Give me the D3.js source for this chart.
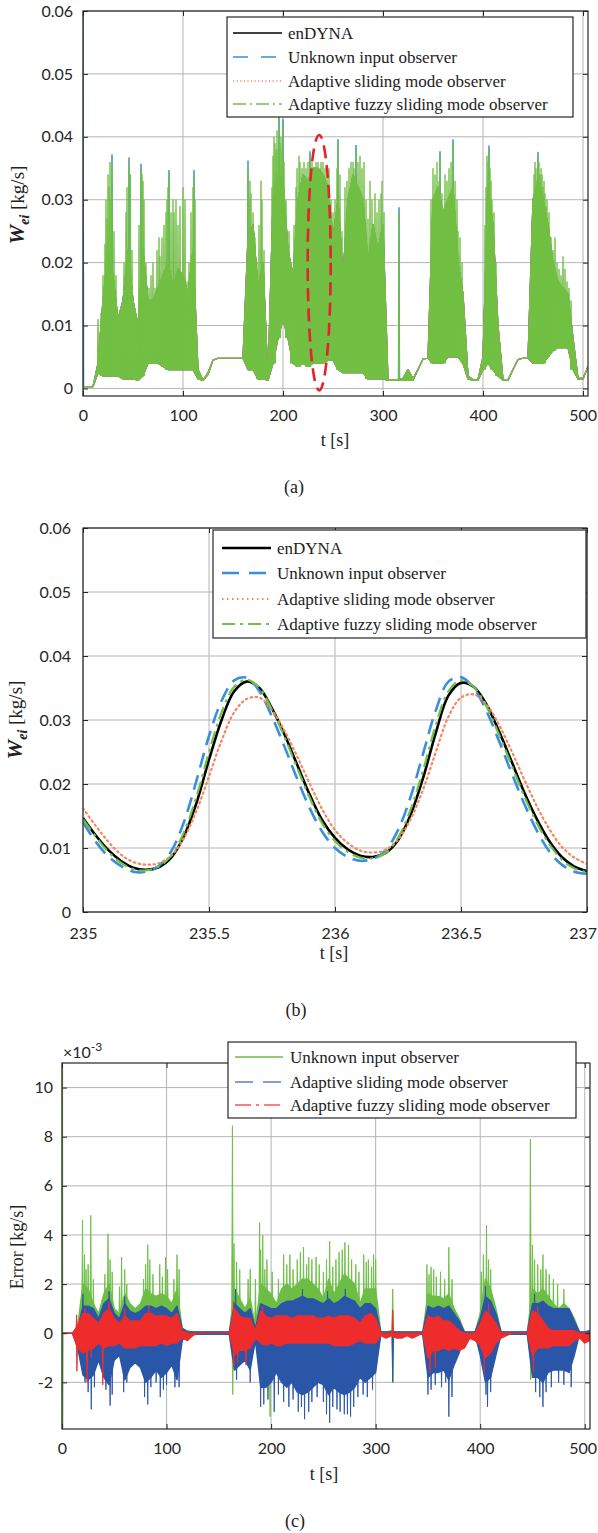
<!DOCTYPE html>
<html><head><meta charset="utf-8">
<script src="https://cdn.jsdelivr.net/npm/d3@7"></script>
<style>body{margin:0;background:#fff}svg{display:block}</style>
</head><body><svg id="c" width="598" height="1533"></svg>
<script>
// ===================== DATA =====================
// Panel (a): envelope of the mass-flow signal sampled every 5 s (0..505 s)
const aTime = d3.range(0, 506, 5);
const aHigh = [0.0003,0.0003,0.0003,0.004,0.014,0.022,0.018,0.011,0.014,0.022,0.014,0.010,0.022,0.014,0.014,0.016,0.018,0.020,0.016,0.019,0.018,0.015,0.022,0.003,0.0013,0.0025,0.0045,0.0048,0.0048,0.0048,0.0048,0.0048,0.0048,0.024,0.026,0.016,0.020,0.0014,0.030,0.034,0.033,0.022,0.018,0.030,0.034,0.033,0.035,0.035,0.034,0.032,0.024,0.030,0.018,0.030,0.034,0.032,0.030,0.020,0.026,0.022,0.026,0.0014,0.0014,0.0014,0.0016,0.003,0.0015,0.003,0.0047,0.0048,0.030,0.032,0.028,0.030,0.032,0.020,0.015,0.002,0.0014,0.0014,0.005,0.032,0.026,0.010,0.0014,0.0014,0.003,0.0046,0.0048,0.0048,0.030,0.033,0.030,0.026,0.020,0.017,0.016,0.015,0.008,0.0016,0.0016,0.0035];
const aLow = [0.0003,0.0003,0.0003,0.0025,0.002,0.002,0.002,0.002,0.0015,0.0015,0.0015,0.0013,0.002,0.004,0.004,0.004,0.0035,0.003,0.003,0.003,0.003,0.003,0.003,0.0015,0.0013,0.0022,0.0045,0.0048,0.0048,0.0048,0.0048,0.0048,0.0048,0.003,0.003,0.0015,0.0015,0.0013,0.004,0.008,0.011,0.008,0.004,0.0035,0.004,0.0035,0.004,0.004,0.004,0.0045,0.0045,0.003,0.0025,0.0025,0.0025,0.0025,0.0025,0.0015,0.0015,0.0015,0.0015,0.0013,0.0013,0.0013,0.0013,0.0013,0.0013,0.003,0.0047,0.0048,0.004,0.004,0.004,0.005,0.005,0.005,0.004,0.0015,0.0013,0.0013,0.003,0.004,0.003,0.002,0.0013,0.0013,0.003,0.0046,0.0048,0.0048,0.004,0.004,0.004,0.005,0.006,0.0065,0.0065,0.0065,0.003,0.0015,0.0015,0.0035];
// oscillation peaks [t, value]
const aSpikes = [[15,0.011],[18,0.012],[20,0.018],[22,0.023],[23,0.030],[24,0.027],[25,0.034],[26,0.032],[27,0.036],[28,0.030],[29,0.036],[31,0.025],[33,0.018],[41,0.020],[43,0.028],[44,0.032],[46,0.036],[47.5,0.034],[49,0.022],[56,0.026],[58,0.035],[59,0.034],[60,0.033],[61,0.030],[63,0.020],[66,0.016],[68,0.018],[70,0.020],[72,0.016],[74,0.022],[76,0.024],[77,0.021],[79,0.024],[81,0.026],[83,0.028],[84,0.030],[85,0.032],[86,0.034],[88,0.028],[90,0.030],[91,0.028],[93,0.030],[95,0.026],[97,0.029],[100,0.032],[102,0.030],[104,0.017],[106,0.020],[108,0.028],[110,0.032],[111,0.034],[112,0.030],
[165,0.035],[166,0.030],[167,0.033],[168,0.031],[170,0.028],[172,0.024],[174,0.020],[176,0.026],[178,0.033],[179,0.030],[181,0.022],[189,0.032],[190,0.037],[191,0.040],[192,0.039],[193,0.038],[194,0.041],[195,0.038],[196,0.043],[197,0.039],[198,0.040],[199,0.038],[200,0.042],[201,0.036],[203,0.030],[206,0.025],[208,0.020],[211,0.026],[213,0.032],[214,0.035],[216,0.037],[217,0.036],[219,0.035],[221,0.036],[223,0.035],[225,0.036],[227,0.037],[229,0.036],[231,0.035],[233,0.036],[235,0.036],[237,0.035],[238,0.036],[240,0.036],[242,0.035],[244,0.034],[246,0.035],[248,0.030],[250,0.028],[252,0.030],[254,0.035],[255,0.039],[257,0.034],[259,0.025],[262,0.032],[264,0.033],[266,0.035],[268,0.036],[270,0.036],[271,0.035],[273,0.038],[275,0.036],[277,0.037],[279,0.035],[281,0.036],[283,0.030],[285,0.027],[287,0.033],[289,0.030],[292,0.031],[294,0.028],[296,0.030],[298,0.031],[299,0.033],[301,0.028],
[316,0.028],[348,0.030],[350,0.035],[352,0.034],[354,0.036],[356,0.033],[357,0.037],[359,0.031],[362,0.034],[364,0.033],[366,0.035],[368,0.036],[370,0.039],[372,0.033],[374,0.030],[375,0.025],[377,0.024],[379,0.020],
[402,0.026],[403,0.032],[404,0.037],[405,0.036],[406,0.038],[407,0.035],[408,0.033],[409,0.030],[411,0.028],[413,0.020],
[450,0.030],[451,0.034],[452,0.036],[453,0.035],[454,0.033],[455,0.037],[456,0.036],[457,0.034],[458,0.035],[459,0.034],[460,0.032],[461,0.033],[462,0.031],[463,0.029],[464,0.030],[466,0.028],[468,0.024],[470,0.022],[472,0.024],[474,0.020],[476,0.019],[478,0.018],[480,0.021],[482,0.019],[484,0.017],[486,0.016],[488,0.014]];
// unknown input observer peaks that stick out above the others
const uioTips = [[29,0.0372],[46,0.0367],[58,0.0357],[86,0.0347],[111,0.0347],[165,0.0362],[196,0.0435],[200,0.0428],[227,0.0377],[255,0.0396],[273,0.0387],[316,0.0288],[357,0.0377],[370,0.0396],[406,0.0386],[455,0.0376]];
const uioStart = [[0,0.06],[0.5,0.0003]];
const zoomWindow = {t:236.2, v:0.020, dt:11.5, dv:0.0203};

// Panel (b): 235 .. 237 s, every 0.05 s
const bTime = d3.range(0, 41).map(i => 235 + i * 0.05);
const bEnDYNA = [0.0147,0.0120,0.0097,0.0080,0.0069,0.0066,0.0070,0.0085,0.0118,0.0170,0.0238,0.0300,0.0345,0.0360,0.0350,0.0318,0.0277,0.0230,0.0183,0.0143,0.0116,0.0098,0.0088,0.0086,0.0092,0.0112,0.0152,0.0210,0.0280,0.0338,0.0358,0.0352,0.0325,0.0283,0.0236,0.0188,0.0146,0.0111,0.0086,0.0071,0.0064];
const bUIO = [0.0140,0.0110,0.0087,0.0072,0.0063,0.0063,0.0072,0.0095,0.0140,0.0205,0.0275,0.0330,0.0362,0.0366,0.0345,0.0305,0.0258,0.0208,0.0162,0.0125,0.0100,0.0086,0.0080,0.0083,0.0096,0.0128,0.0180,0.0248,0.0315,0.0360,0.0367,0.0350,0.0315,0.0268,0.0218,0.0170,0.0128,0.0095,0.0074,0.0063,0.0060];
const bASMO = [0.0162,0.0135,0.0110,0.0090,0.0078,0.0074,0.0076,0.0088,0.0115,0.0158,0.0212,0.0268,0.0312,0.0333,0.0335,0.0315,0.0283,0.0243,0.0200,0.0160,0.0128,0.0108,0.0096,0.0093,0.0097,0.0113,0.0145,0.0192,0.0250,0.0305,0.0335,0.0340,0.0325,0.0293,0.0252,0.0208,0.0166,0.0130,0.0102,0.0085,0.0075];
const bAFSMO = [0.0145,0.0118,0.0094,0.0077,0.0067,0.0065,0.0071,0.0088,0.0124,0.0180,0.0250,0.0312,0.0352,0.0363,0.0350,0.0316,0.0273,0.0225,0.0178,0.0138,0.0111,0.0094,0.0085,0.0084,0.0092,0.0116,0.0160,0.0222,0.0292,0.0345,0.0362,0.0352,0.0322,0.0278,0.0230,0.0182,0.0140,0.0106,0.0082,0.0068,0.0062];

// Panel (c): estimation error (x 10^-3 kg/s), envelopes every 5 s
const cTime = d3.range(0, 506, 5);
const uioErrHigh = [0,0,0,0.3,2.0,1.8,1.2,0.8,1.6,2.0,1.0,0.8,1.6,1.2,1.0,1.2,1.8,1.6,1.5,1.6,1.5,1.2,1.8,0.2,0.1,0.05,0.05,0.05,0.05,0.05,0.05,0.05,0.05,1.8,1.4,1.0,1.4,0.3,2.0,1.8,1.6,1.2,1.8,2.0,1.8,2.0,2.2,2.2,2.0,1.8,1.4,2.2,1.6,2.0,2.4,2.2,2.0,1.2,1.8,1.8,1.8,0.05,0.05,0.1,0.05,0.05,0.05,0.05,0.05,0.05,1.6,1.5,1.5,1.4,1.6,1.0,0.6,0.05,0.05,0.05,0.8,2.2,1.8,1.0,0.05,0.05,0.05,0.05,0.05,0.05,1.8,1.6,1.8,1.5,1.2,1.0,1.2,1.0,0.6,0.05,0.05,0.1];
const uioErrLow = [0,0,0,-0.3,-1.2,-1.3,-1.0,-0.8,-1.4,-1.5,-0.9,-0.8,-1.4,-1.2,-1.0,-1.0,-1.3,-1.3,-1.2,-1.3,-1.2,-1.0,-1.3,-0.2,-0.05,-0.05,-0.05,-0.05,-0.05,-0.05,-0.05,-0.05,-0.05,-1.5,-1.2,-0.9,-1.2,-0.3,-1.5,-1.5,-1.6,-1.2,-1.4,-1.5,-1.4,-1.5,-1.5,-1.5,-1.4,-1.4,-1.3,-1.4,-1.4,-1.4,-1.4,-1.4,-1.3,-1.1,-1.2,-1.2,-1.2,-0.05,-0.05,-0.1,-0.05,-0.05,-0.05,-0.05,-0.05,-0.05,-1.4,-1.3,-1.2,-1.2,-1.3,-0.9,-0.6,-0.05,-0.05,-0.05,-0.8,-1.4,-1.3,-0.8,-0.05,-0.05,-0.05,-0.05,-0.05,-0.05,-1.5,-1.3,-1.3,-1.2,-1.0,-1.0,-1.0,-0.9,-0.6,-0.05,-0.05,-0.1];
const asmoErrHigh = [0,0,0,0.2,1.1,1.1,1.0,0.6,1.2,1.4,0.8,0.6,1.2,0.9,0.8,0.9,1.1,1.1,1.0,1.1,1.0,0.8,1.1,0.2,0.05,0.05,0.05,0.05,0.05,0.05,0.05,0.05,0.05,1.2,1.0,0.8,1.0,0.2,1.2,1.1,1.0,1.0,1.2,1.3,1.3,1.4,1.5,1.4,1.4,1.3,1.2,1.4,1.2,1.3,1.5,1.4,1.3,1.0,1.2,1.2,1.0,0.05,0.05,0.05,0.05,0.05,0.05,0.05,0.05,0.05,1.1,1.0,1.1,1.0,1.1,0.8,0.5,0.05,0.05,0.05,0.6,1.5,1.3,0.8,0.05,0.05,0.05,0.05,0.05,0.05,1.2,1.2,1.3,1.1,1.0,1.0,1.0,1.0,0.5,0.05,0.05,0.1];
const asmoErrLow = [0,0,0,-0.6,-1.7,-1.9,-1.7,-1.1,-1.8,-2.1,-1.1,-0.9,-1.9,-1.4,-1.2,-1.4,-2.0,-1.8,-1.5,-1.8,-1.6,-1.3,-1.9,-0.3,-0.05,-0.05,-0.05,-0.05,-0.05,-0.05,-0.05,-0.05,-0.05,-1.5,-1.3,-1.1,-1.5,-0.3,-2.2,-2.2,-2.0,-1.6,-2.0,-2.2,-2.0,-2.4,-2.5,-2.4,-2.2,-2.0,-2.1,-2.5,-2.2,-2.4,-2.5,-2.4,-2.2,-1.8,-2.0,-1.8,-1.6,-0.05,-0.05,-0.05,-0.05,-0.05,-0.05,-0.05,-0.05,-0.05,-1.8,-1.6,-1.6,-1.5,-1.9,-1.3,-0.8,-0.05,-0.05,-0.05,-0.9,-2.0,-1.8,-0.9,-0.05,-0.05,-0.05,-0.05,-0.05,-0.05,-1.8,-1.8,-2.0,-1.6,-1.5,-1.5,-1.5,-1.6,-0.9,-0.05,-0.05,-0.1];
const afsmoErrHigh = [0,0,0,0.3,0.8,0.8,0.6,0.4,0.8,1.0,0.6,0.4,0.7,0.5,0.5,0.5,0.8,0.8,0.7,0.7,0.7,0.6,0.8,0.1,0,0,0,0,0,0,0,0,0,1.0,0.7,0.6,0.6,0.1,0.9,0.7,0.6,0.7,0.7,0.7,0.6,0.7,0.7,0.7,0.7,0.6,0.6,0.7,0.6,0.7,0.7,0.7,0.6,0.4,0.7,0.8,0.6,0,0,0,0,0,0,0,0,0,0.7,0.6,0.7,0.5,0.5,0.3,0.1,0,0,0,0.4,0.9,0.7,0.4,0,0,0,0,0,0,0.9,0.8,0.5,0.2,0.1,0.1,0.1,0.1,0.1,0,0,0];
const afsmoErrLow = [0,0,0,-0.6,-0.8,-0.7,-0.6,-0.4,-0.6,-0.5,-0.5,-0.4,-0.6,-0.6,-0.6,-0.5,-0.5,-0.5,-0.5,-0.4,-0.5,-0.4,-0.4,-0.2,-0.3,-0.1,0,0,0,0,0,0,0,-0.9,-0.7,-0.7,-0.6,-0.2,-0.4,-0.5,-0.4,-0.5,-0.5,-0.4,-0.4,-0.4,-0.4,-0.4,-0.4,-0.4,-0.4,-0.4,-0.5,-0.5,-0.5,-0.5,-0.4,-0.3,-0.4,-0.4,-0.4,-0.1,-0.2,-0.1,-0.2,-0.2,-0.1,-0.2,-0.1,0,-1.0,-0.7,-0.7,-0.6,-0.7,-0.6,-0.7,-0.6,-0.2,-0.3,-0.5,-1.0,-0.8,-0.4,-0.2,-0.1,0,0,0,0,-0.9,-0.6,-0.6,-0.6,-0.5,-0.5,-0.5,-0.5,-0.3,-0.2,-0.4,-0.3];
const uioErrSpikes = [[19.6,4.6],[21.5,3.2],[23,2.6],[25,2.8],[27.5,4.8],[30,2.2],[41,2.4],[44,4.05],[46,3.0],[48,2.5],[55,1.9],[57,3.1],[60,2.6],[62,2.0],[78,2.2],[80,2.8],[82,3.6],[84,3.0],[87,2.4],[93.5,2.8],[96,2.3],[99,3.1],[101,2.6],[107,2.2],[110,3.2],[112,2.6],
[163,8.45],[163.3,-2.5],[164.5,3.65],[167,2.9],[170,2.6],[178,2.2],[180,2.6],[185,2.2],[189,4.5],[190,3.4],[192,4.0],[194,2.6],[196,3.0],[199,-3.4],[201,2.5],[207,2.2],[212,3.2],[215,2.8],[218,3.2],[221,2.6],[225,3.0],[228,3.3],[231,3.5],[234,2.8],[236,3.1],[239,3.0],[243,3.1],[246,2.8],[250,2.5],[253,3.0],[256,3.75],[259,2.7],[262,3.0],[265,3.3],[268,3.4],[270.6,3.7],[274,3.6],[277,3.0],[281,2.8],[284,2.5],[288.6,3.2],[291,2.9],[293,3.0],[296,2.7],[298,3.2],[300,3.0],
[316.3,1.8],[316.5,-2.0],[349,2.8],[351,2.4],[353,2.7],[355.5,2.6],[358,2.3],[362,2.5],[366,2.2],[370,3.5],[373,2.2],[401,2.5],[403,3.2],[406,4.4],[408,3.0],[410,2.6],[448,7.9],[448.3,-1.9],[450,3.6],[452,3.0],[455,2.8],[458,2.6],[460,3.2],[463,2.6],[466,2.4],[470,2.2],[474,2.0],[480,1.8]];
const asmoErrSpikes = [[20,1.6],[22,-2.0],[25,-2.4],[28,-3.1],[31,-2.2],[42,-2.3],[45,1.7],[46,-2.95],[48,-2.5],[59,-2.4],[60,1.5],[62,-2.0],[79,-2.6],[82,-2.9],[85,-2.2],[90,-2.0],[94,-2.6],[97,-2.3],[100,-2.1],[108,-2.2],[112,-2.2],
[166,1.8],[167,-1.9],[180,-2.0],[190,-3.0],[193,-2.9],[197,-2.7],[203,-3.2],[207,-2.5],[212,-2.8],[217,-3.0],[221,-2.7],[226,-3.2],[229,-3.0],[230,1.8],[232,-3.5],[236,-3.2],[239,-2.8],[244,-2.6],[250,-2.8],[253,-3.3],[254,1.7],[256,-3.65],[259,-3.0],[263,-3.1],[266,-3.2],[270,-3.3],[271,1.8],[273,-3.3],[276,-3.4],[279,-3.0],[283,-2.6],[288,-2.5],[292,-2.6],[297,-2.3],
[316.3,-2.0],[350,-2.5],[353,-2.3],[357,-2.1],[363,-2.2],[367,-2.0],[370,-3.4],[373,-2.6],[405,1.9],[405.5,-2.5],[407,-3.0],[410,-2.4],[452,1.6],[453,-2.4],[457,-2.6],[460,-3.0],[463,-2.4],[468,-2.2],[475,-2.0],[480,-2.1],[487,-2.2]];
const afsmoErrSpikes = [[14,0.75],[14.3,-1.55],[22,1.0],[24,-2.0],[28,-1.0],[39,-2.1],[45,1.3],[60,1.0],[83,1.1],[164,1.3],[164.3,-1.35],[168,-1.2],[176,-1.3],[192,1.1],[316.3,0.95],[352,-1.6],[357,-1.4],[404,-1.6],[408,1.2],[451,-1.6],[455,1.1]];
const uioErrStart = [[0,11],[0.2,-3.9],[0.5,0]];

// Labels / ticks
const namesAB = ["enDYNA","Unknown input observer","Adaptive sliding mode observer","Adaptive fuzzy sliding mode observer"];
const namesC = ["Unknown input observer","Adaptive sliding mode observer","Adaptive fuzzy sliding mode observer"];
const tTicks = [0,100,200,300,400,500];
const wTicks = [0,0.01,0.02,0.03,0.04,0.05,0.06];
const bTTicks = [235,235.5,236,236.5,237];
const eTicks = [-2,0,2,4,6,8,10];

// ===================== STYLE =====================
const colAB = ["#000000","#3A8EDB","#F4865F","#72BF44"];
const colC = ["#6CBE45","#2A56A8","#EE2C2C"];
const SERIF = "'Liberation Serif','Times New Roman',serif";
const SANS = "Lato, 'Open Sans', sans-serif";
const svg = d3.select("#c");

function grid(x, y, xt, yt) {
  const [x0,x1] = x.range(), [y0,y1] = y.range();
  const g = svg.append("g");
  g.selectAll(".gx").data(xt).join("line").attr("x1",d=>x(d)).attr("x2",d=>x(d)).attr("y1",y0).attr("y2",y1).attr("stroke","#b4b4b4").attr("stroke-width",1);
  g.selectAll(".gy").data(yt).join("line").attr("x1",x0).attr("x2",x1).attr("y1",d=>y(d)).attr("y2",d=>y(d)).attr("stroke","#b4b4b4").attr("stroke-width",1);
}
function axes(x, y, xt, yt, xf, yf, padX, padY) {
  const [x0,x1] = x.range(), [y0,y1] = y.range();
  const g = svg.append("g");
  const st = s => { s.select(".domain").remove(); s.selectAll("line").attr("stroke","#262626");
    s.selectAll("text").attr("font-family",SANS).attr("font-size",16).attr("fill","#262626"); };
  const bx = g.append("g").attr("transform",`translate(0,${y0})`).call(d3.axisBottom(x).tickValues(xt).tickSize(-5).tickPadding(padX).tickFormat(xf)).call(st);
  g.append("g").attr("transform",`translate(0,${y1})`).call(d3.axisTop(x).tickValues(xt).tickSize(-5).tickFormat("")).call(st);
  g.append("g").attr("transform",`translate(${x0},0)`).call(d3.axisLeft(y).tickValues(yt).tickSize(-5).tickPadding(padY).tickFormat(yf)).call(st);
  g.append("g").attr("transform",`translate(${x1},0)`).call(d3.axisRight(y).tickValues(yt).tickSize(-5).tickFormat("")).call(st);
  g.append("rect").attr("x",x0).attr("y",y1).attr("width",x1-x0).attr("height",y0-y1).attr("fill","none").attr("stroke","#262626").attr("stroke-width",1.2);
  bx.selectAll(".tick text").each(function(){ const b = this.getBBox(), m = this.getCTM();
    const right = m.e + b.x + b.width; if (right > 597) d3.select(this).attr("dx", -(right - 597)); });
}
function clip(id, x, y) {
  const [x0,x1] = x.range(), [y0,y1] = y.range();
  svg.append("clipPath").attr("id",id).append("rect").attr("x",x0).attr("y",y1).attr("width",x1-x0).attr("height",y0-y1);
  return svg.append("g").attr("clip-path",`url(#${id})`);
}
function legend(x0, y0, w, h, rowsY, sx0, sx1, tx, items) {
  const g = svg.append("g");
  g.append("rect").attr("x",x0).attr("y",y0).attr("width",w).attr("height",h).attr("fill","#fff").attr("stroke","#262626").attr("stroke-width",1.2);
  items.forEach((it, i) => {
    g.append("line").attr("x1",sx0).attr("x2",sx1).attr("y1",rowsY[i]).attr("y2",rowsY[i]).attr("stroke",it.c).attr("stroke-width",it.w).attr("stroke-dasharray",it.d || null);
    g.append("text").attr("x",tx).attr("y",rowsY[i]+6).attr("font-family",SERIF).attr("font-size",17).attr("fill","#222").text(it.n);
  });
}
function ylabelW(cx, cy) {
  const t = svg.append("text").attr("transform",`translate(${cx},${cy}) rotate(-90)`).attr("text-anchor","middle")
    .attr("font-family",SERIF).attr("font-size",19).attr("fill","#222");
  t.append("tspan").attr("font-style","italic").attr("font-weight","bold").attr("font-size",22).text("W");
  t.append("tspan").attr("font-style","italic").attr("font-weight","bold").attr("font-size",14).attr("dy",5).text("ei");
  t.append("tspan").attr("dy",-5).text(" [kg/s]");
}
function txt(x, y, s, size) {
  svg.append("text").attr("x",x).attr("y",y).attr("text-anchor","middle").attr("font-family",SERIF).attr("font-size",size||18).attr("fill","#222").text(s);
}
const fmtW = v => v === 0 ? "0" : d3.format(".2f")(v);
const spikeLine = (x, y) => d3.line().x(d => x(d[0])).y(d => y(d[1]));
const spikeTri = (t, v, base, hw) => [[t-hw, base],[t, v],[t+hw, base]];

// ===================== PANEL (a) =====================
const xA = d3.scaleLinear().domain([0,505]).range([83,588]);
const yA = d3.scaleLinear().domain([-0.0012,0.06]).range([396,11]);
grid(xA, yA, tTicks, wTicks);
const gA = clip("clipA", xA, yA);
const idxA = d3.range(aTime.length);
const areaA = d3.area().x(i => xA(aTime[i])).y0(i => yA(aLow[i])).y1(i => yA(aHigh[i]));
const baseA = t => aLow[Math.min(aLow.length-1, Math.round(t/5))];
[0,1,2,3].forEach(k => {
  gA.append("path").datum(idxA).attr("d", areaA).attr("fill", colAB[k]).attr("stroke", colAB[k]).attr("stroke-width", 1.2).attr("stroke-linejoin","round");
  if (k === 0) {
    aSpikes.forEach(p => gA.append("path").datum(spikeTri(p[0], p[1] - 0.0004, baseA(p[0]), 0.3)).attr("d", spikeLine(xA,yA)).attr("fill", colAB[0]).attr("stroke", "none"));
  }
  if (k === 1) {
    uioTips.forEach(p => gA.append("path").datum(spikeTri(p[0], p[1], baseA(p[0]), 0.7)).attr("d", spikeLine(xA,yA)).attr("fill", colAB[1]).attr("stroke", colAB[1]).attr("stroke-width", 1));
    gA.append("path").datum(uioStart).attr("d", spikeLine(xA,yA)).attr("fill","none").attr("stroke", colAB[1]).attr("stroke-width", 1.5);
  }
  if (k === 3) {
    aSpikes.forEach(p => gA.append("path").datum(spikeTri(p[0], p[1], baseA(p[0]), 0.6)).attr("d", spikeLine(xA,yA)).attr("fill", colAB[3]).attr("stroke", colAB[3]).attr("stroke-width", 0.9));
  }
});
gA.append("ellipse").attr("cx", xA(zoomWindow.t)).attr("cy", yA(zoomWindow.v))
  .attr("rx", xA(zoomWindow.t + zoomWindow.dt) - xA(zoomWindow.t)).attr("ry", yA(0) - yA(zoomWindow.dv))
  .attr("fill","none").attr("stroke","#E52328").attr("stroke-width",2.6).attr("stroke-dasharray","13,7");
axes(xA, yA, tTicks, wTicks, d3.format("d"), fmtW, 14, 10);
legend(227, 17, 346, 100, [33,57,81,104], 233, 282, 288, [
  {n:namesAB[0], c:colAB[0], w:1.3},
  {n:namesAB[1], c:colAB[1], w:1.3, d:"15,13"},
  {n:namesAB[2], c:colAB[2], w:1.5, d:"1.2,2.4"},
  {n:namesAB[3], c:colAB[3], w:1.3, d:"13,4,2,4"}]);
ylabelW(24, 205);
txt(335, 446, "t [s]");
txt(294, 493, "(a)");

// ===================== PANEL (b) =====================
const xB = d3.scaleLinear().domain([235,237]).range([83,587]);
const yB = d3.scaleLinear().domain([0,0.06]).range([912,528]);
grid(xB, yB, bTTicks, wTicks);
const gB = clip("clipB", xB, yB);
const lineB = arr => d3.line().curve(d3.curveCatmullRom).x((d,i) => xB(bTime[i])).y(d => yB(d))(arr);
gB.append("path").attr("d", lineB(bEnDYNA)).attr("fill","none").attr("stroke",colAB[0]).attr("stroke-width",2.6);
gB.append("path").attr("d", lineB(bUIO)).attr("fill","none").attr("stroke",colAB[1]).attr("stroke-width",2.6).attr("stroke-dasharray","15,8");
gB.append("path").attr("d", lineB(bASMO)).attr("fill","none").attr("stroke",colAB[2]).attr("stroke-width",2.2).attr("stroke-dasharray","1.5,3.5").attr("stroke-linecap","round");
gB.append("path").attr("d", lineB(bAFSMO)).attr("fill","none").attr("stroke",colAB[3]).attr("stroke-width",2.2).attr("stroke-dasharray","13,5,3,5");
axes(xB, yB, bTTicks, wTicks, d => String(d), fmtW, 16, 12);
legend(213, 530, 373, 108, [548,573,599,624], 222, 271, 277, [
  {n:namesAB[0], c:colAB[0], w:2.6},
  {n:namesAB[1], c:colAB[1], w:2.6, d:"17,10"},
  {n:namesAB[2], c:colAB[2], w:2.2, d:"1.5,3.5"},
  {n:namesAB[3], c:colAB[3], w:2.2, d:"13,5,3,5"}]);
ylabelW(22, 720);
txt(334, 959, "t [s]");
txt(296, 1016, "(b)");

// ===================== PANEL (c) =====================
const xC = d3.scaleLinear().domain([0,505]).range([62,590]);
const yC = d3.scaleLinear().domain([-3.9,11]).range([1429,1063]);
grid(xC, yC, tTicks, eTicks);
const gC = clip("clipC", xC, yC);
const idxC = d3.range(cTime.length);
const areaC = (hi, lo) => d3.area().x(i => xC(cTime[i])).y0(i => yC(lo[i])).y1(i => yC(hi[i]));
const cLayers = [[uioErrHigh, uioErrLow, uioErrSpikes],[asmoErrHigh, asmoErrLow, asmoErrSpikes],[afsmoErrHigh, afsmoErrLow, afsmoErrSpikes]];
cLayers.forEach((L, k) => {
  gC.append("path").datum(idxC).attr("d", areaC(L[0], L[1])).attr("fill", colC[k]).attr("stroke", colC[k]).attr("stroke-width", 1.3).attr("stroke-linejoin","round");
  L[2].forEach(p => gC.append("path").datum(spikeTri(p[0], p[1], 0, 0.8)).attr("d", spikeLine(xC,yC)).attr("fill", colC[k]).attr("stroke", colC[k]).attr("stroke-width", 0.9));
  if (k === 0) gC.append("path").datum(uioErrStart).attr("d", spikeLine(xC,yC)).attr("fill","none").attr("stroke", colC[0]).attr("stroke-width", 2.2);
});
axes(xC, yC, tTicks, eTicks, d3.format("d"), d => String(d), 14, 9);
legend(228, 1042, 348, 76, [1057,1082,1105], 235, 283, 290, [
  {n:namesC[0], c:colC[0], w:1.5},
  {n:namesC[1], c:"#5B7FC4", w:1.5, d:"18,10"},
  {n:namesC[2], c:"#F05A5A", w:1.5, d:"16,5,3,5"}]);
const mult = svg.append("text").attr("x",63).attr("y",1058).attr("font-family",SANS).attr("font-size",16).attr("fill","#262626");
mult.append("tspan").text("\u00d710");
mult.append("tspan").attr("dy",-7).attr("font-size",12).text("-3");
svg.append("text").attr("transform","translate(23,1247) rotate(-90)").attr("text-anchor","middle").attr("font-family",SERIF).attr("font-size",18).attr("fill","#222").text("Error [kg/s]");
txt(324, 1480, "t [s]");
txt(295, 1527, "(c)");
</script></body></html>
